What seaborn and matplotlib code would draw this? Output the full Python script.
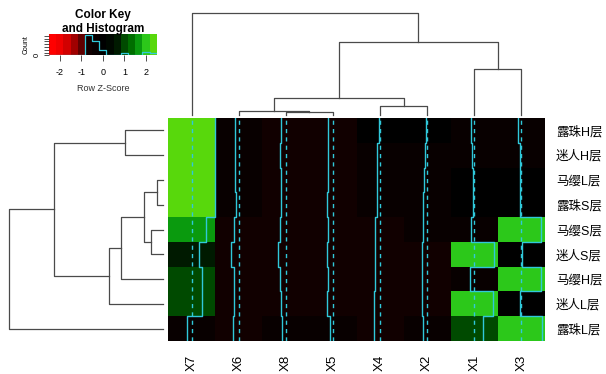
import numpy as np
import pandas as pd
import matplotlib
matplotlib.use("Agg")
import matplotlib.pyplot as plt
import seaborn as sns
from matplotlib.colors import ListedColormap

# ---------------- data ----------------
rows = ["露珠H层", "迷人H层", "马缨L层", "露珠S层", "马缨S层",
        "迷人S层", "马缨H层", "迷人L层", "露珠L层"]
cols = ["X7", "X6", "X8", "X5", "X4", "X2", "X1", "X3"]

# row z-scores, columns in display order
z_ludhu_H = [2.45, -0.35, -0.55, -0.55, -0.10, -0.15, -0.40, -0.35]
z_miren_H = [2.45, -0.35, -0.60, -0.52, -0.30, -0.20, -0.28, -0.20]
z_maying_L = [2.44, -0.40, -0.55, -0.55, -0.30, -0.38, -0.14, -0.12]
z_ludhu_S = [2.44, -0.30, -0.55, -0.58, -0.35, -0.40, -0.14, -0.12]
z_maying_S = [1.55, -0.55, -0.65, -0.55, -0.52, -0.45, -0.30, 2.05]
z_miren_S = [0.75, -0.80, -0.80, -0.65, -0.55, -0.60, 2.10, 0.05]
z_maying_H = [1.10, -0.52, -0.60, -0.55, -0.55, -0.52, -0.45, 2.05]
z_miren_L = [1.10, -0.55, -0.55, -0.60, -0.60, -0.55, 2.00, -0.10]
z_ludhu_L = [-0.45, -0.60, -0.45, -0.30, -0.65, -0.45, 0.95, 2.15]

# dendrogram merges: (left, right, height); ints refer to earlier merges
col_merges = [("X8", "X5", 3.0), ("X6", 0, 4.3), ("X4", "X2", 9.3), (1, 2, 17.0),
              ("X1", "X3", 46.0), (3, 4, 73.0), ("X7", 5, 102.3)]
row_merges = [("马缨L层", "露珠S层", 6.0), ("马缨S层", "迷人S层", 12.3), (0, 1, 19.0),
              (2, "马缨H层", 42.3), (3, "迷人L层", 54.0), ("露珠H层", "迷人H层", 38.0),
              (5, 4, 109.0), (6, "露珠L层", 153.7)]

key_min, key_max, n_bins = -2.5, 2.5, 15
key_ticks = [-2, -1, 0, 1, 2]

# ---------------- style ----------------
palette = ["#FF0000", "#F00000", "#D20000", "#A00000", "#600000",
           "#110000", "#080000", "#000000", "#000800", "#001A00",
           "#004A00", "#006E00", "#0A9A0E", "#2CC81A", "#58D80C"]
cmap = ListedColormap(palette)
trace_col = "#30C8DA"
tree_col = "#4A4A4A"

plt.rcParams["font.family"] = ["Liberation Sans", "Noto Sans CJK SC", "DejaVu Sans"]
plt.rcParams["axes.unicode_minus"] = False

W, H = 606, 374
fig = plt.figure(figsize=(W / 100, H / 100), dpi=100)


def px_axes(x0, y0, x1, y1):
    return fig.add_axes([x0 / W, 1 - y1 / H, (x1 - x0) / W, (y1 - y0) / H])


df = pd.DataFrame([z_ludhu_H, z_miren_H, z_maying_L, z_ludhu_S, z_maying_S,
                   z_miren_S, z_maying_H, z_miren_L, z_ludhu_L],
                  index=rows, columns=cols)

# ---------------- heatmap ----------------
ax = px_axes(168, 118, 545, 341)
sns.heatmap(df, ax=ax, cmap=cmap, vmin=key_min, vmax=key_max, cbar=False,
            xticklabels=True, yticklabels=True, linewidths=0, rasterized=True)
ax.yaxis.tick_right()
ax.set_yticklabels(rows, rotation=0, fontsize=9)
ax.set_xticklabels(cols, rotation=90, fontsize=9.5, va="top")
ax.tick_params(axis="y", length=0, pad=8)
ax.tick_params(axis="x", length=0, pad=10)
ax.set_xlabel("")
ax.set_ylabel("")

mid = 0.5 * (key_min + key_max)
nrow = len(rows)
ys = np.column_stack([np.arange(nrow), np.arange(nrow) + 1]).ravel()
for j, c in enumerate(cols):
    scaled = (df[c].values - key_min) / (key_max - key_min)
    xv = np.repeat(j + scaled, 2)
    ax.axvline(j + (mid - key_min) / (key_max - key_min), color=trace_col,
               lw=1.0, ls=(0, (3, 3)))
    ax.plot(xv, ys, color=trace_col, lw=1.0)


# ---------------- dendrograms ----------------
def dendro(axd, merges, order, orient):
    pos = {name: i + 0.5 for i, name in enumerate(order)}
    nodes = []

    def get(ref):
        if isinstance(ref, str):
            return pos[ref], 0.0
        return nodes[ref]

    for a, b, h in merges:
        xa, ha = get(a)
        xb, hb = get(b)
        p = [xa, xa, xb, xb]
        q = [ha, h, h, hb]
        if orient == "top":
            axd.plot(p, q, color=tree_col, lw=0.9, clip_on=False)
        else:
            axd.plot(q, p, color=tree_col, lw=0.9, clip_on=False)
        nodes.append(((xa + xb) / 2, h))
    return nodes[-1][1]


axc = px_axes(168, 12.7, 545, 118)
top_c = dendro(axc, col_merges, cols, "top")
axc.set_xlim(0, len(cols))
axc.set_ylim(-3, top_c)
axc.axis("off")

axr = px_axes(9.3, 118, 168, 341)
top_r = dendro(axr, row_merges, rows, "left")
axr.set_xlim(top_r, -5)
axr.set_ylim(nrow, 0)
axr.axis("off")

# ---------------- colour key ----------------
axk = px_axes(49, 34, 156.7, 55.3)
edges = np.linspace(key_min, key_max, n_bins + 1)
centers = 0.5 * (edges[:-1] + edges[1:])
axk.pcolormesh(edges, [0, 1], centers[None, :], cmap=cmap, vmin=key_min, vmax=key_max)
counts, _ = np.histogram(df.values.ravel(), bins=edges)
hy = np.append(counts, counts[-1]) / counts.max() * 0.95
axk.step(edges, hy, where="post", color=trace_col, lw=0.9)
axk.set_xlim(key_min, key_max)
axk.set_ylim(0, 1)
axk.set_xticks(key_ticks)
axk.set_xticklabels([str(t) for t in key_ticks], fontsize=6.5)
ytk = np.arange(0, counts.max() + 1, 4)
axk.set_yticks(ytk / counts.max() * 0.95)
axk.set_yticklabels(["0"] + [""] * (len(ytk) - 1), fontsize=5.5, rotation=90, va="center")
axk.tick_params(axis="x", length=4.3, pad=5, width=0.6, color="#333333")
axk.tick_params(axis="y", length=3.6, pad=2, width=0.6, color="#333333")
axk.set_xlabel("Row Z-Score", fontsize=6.5, labelpad=5, color="#333333")
axk.set_ylabel("Count", fontsize=5, labelpad=3)
for s in axk.spines.values():
    s.set_visible(False)

fig.text(103 / W, 1 - 22 / H, "Color Key\nand Histogram", ha="center", va="center",
         fontsize=8.5, fontweight="bold", linespacing=1.25)

fig.savefig("out.png", dpi=100)
